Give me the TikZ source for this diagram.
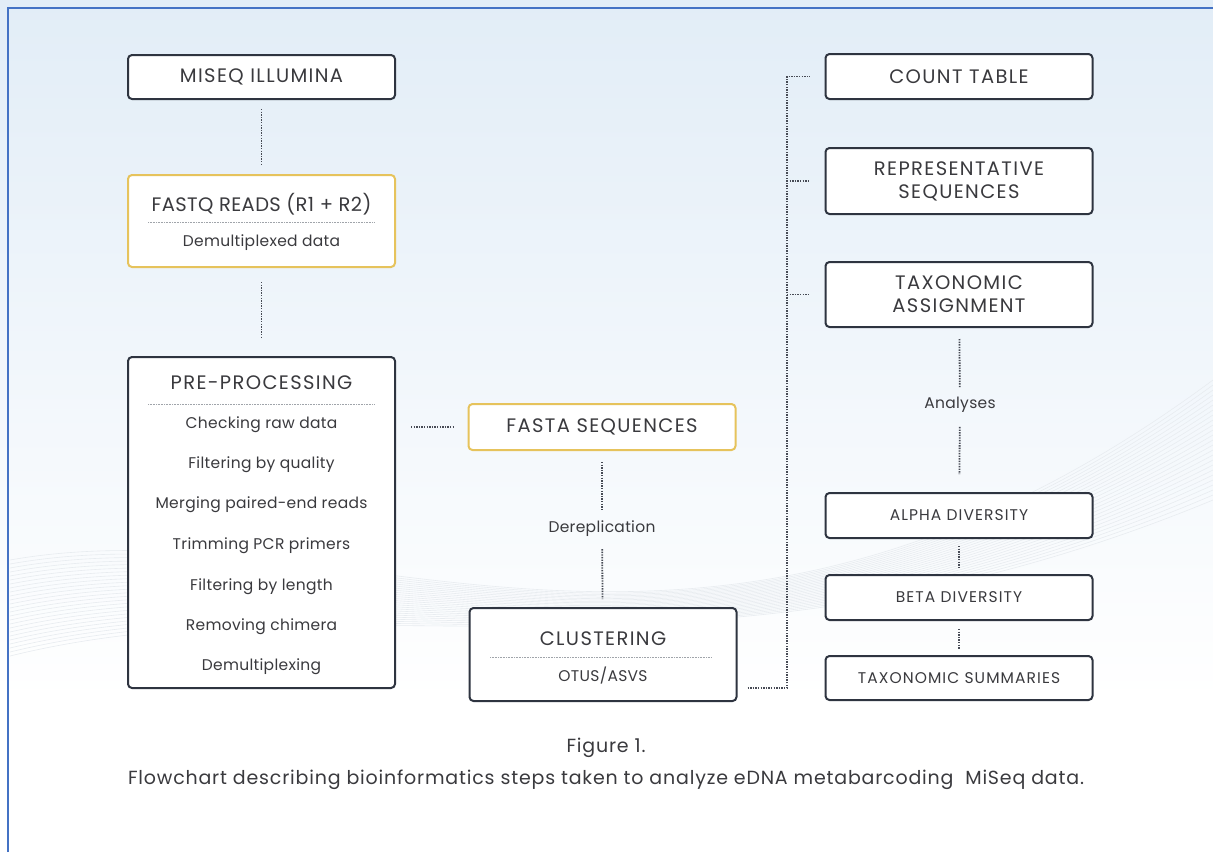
\documentclass[tikz,border=0pt]{standalone}
\usepackage{fontspec}
\setmainfont{Poppins}
\newfontfamily\pop{Poppins}
\newfontfamily\popT[LetterSpace=7]{Poppins}
\newfontfamily\popN[LetterSpace=2]{Poppins}
\newfontfamily\popS[LetterSpace=2]{Poppins}
\newfontfamily\popC[LetterSpace=4.3]{Poppins}
\usetikzlibrary{calc}
\definecolor{boxc}{HTML}{2E3440}
\definecolor{goldc}{HTML}{E6C35C}
\definecolor{txt}{HTML}{3A3A3E}
\definecolor{dotc}{HTML}{474B55}
\definecolor{sepc}{HTML}{A0A4AA}
\definecolor{bluec}{HTML}{4472C4}
\definecolor{bgtop}{HTML}{E2EDF7}
\definecolor{wavec}{HTML}{E8ECF0}
\newcommand{\boxfont}{\popT\fontsize{19.5}{23}\selectfont}
\newcommand{\narrowfont}{\popN\fontsize{19.5}{23}\selectfont}
\newcommand{\smallboxfont}{\popT\fontsize{15.5}{18}\selectfont}
\newcommand{\itemfont}{\popS\fontsize{15.5}{18}\selectfont}
\newcommand{\capfont}{\popC\fontsize{19}{22}\selectfont}
\begin{document}
\begin{tikzpicture}[x=1pt,y=-1pt,
  box/.style={draw=boxc, line width=2pt, rounded corners=4pt, fill=white, minimum width=267pt, inner sep=0pt, text=txt, font=\boxfont, align=center},
  gold/.style={box, draw=goldc},
  sbox/.style={box, font=\smallboxfont},
  conn/.style={draw=dotc, line width=1.8pt, dash pattern=on 1.4pt off 1.2pt},
  sepline/.style={draw=sepc, line width=0.8pt, dash pattern=on 0.8pt off 0.8pt},
  lbl/.style={text=txt, font=\itemfont, inner sep=2pt},
  ttl/.style={text=txt, font=\boxfont, inner sep=2pt}]
\useasboundingbox (0,0) rectangle (1213,852);
% background
\shade[top color=bgtop, bottom color=white] (0,0) rectangle (1213,700);
\fill[white] (0,700) rectangle (1213,852);
\foreach \k in {0,...,24} {
  \draw[wavec, line width=0.6pt] (10,{560+4*\k}) .. controls (350,{500+3*\k}) and (700,{760-2*\k}) .. (1213,{380+5*\k});
}
\draw[bluec, line width=2.5pt] (8,852) -- (8,8) -- (1213,8);
% left column
\node[box, minimum height=44pt] (miseq) at (261.5,77) {MISEQ ILLUMINA};
\node[gold, minimum height=92pt] (fastq) at (261.5,221) {};
\node[ttl, font=\narrowfont] (fastqT) at (261.5,204) {FASTQ READS (R1 + R2)};
\draw[sepline] (148,222) -- (375,222);
\node[lbl] (fastqS) at (261.5,243) {Demultiplexed data};
\node[box, minimum height=331pt] (pre) at (261.5,522.5) {};
\node[ttl] (preT) at (261.5,383) {PRE-PROCESSING};
\draw[sepline] (148,404) -- (375,404);
\node[lbl] (i1) at (261.5,425) {Checking raw data};
\node[lbl] (i2) at (261.5,465) {Filtering by quality};
\node[lbl] (i3) at (261.5,505) {Merging paired-end reads};
\node[lbl] (i4) at (261.5,546) {Trimming PCR primers};
\node[lbl] (i5) at (261.5,587) {Filtering by length};
\node[lbl] (i6) at (261.5,627) {Removing chimera};
\node[lbl] (i7) at (261.5,667) {Demultiplexing};
% middle column
\node[gold, minimum height=46pt] (fasta) at (602,427) {FASTA SEQUENCES};
\node[lbl] (derep) at (602,529) {Dereplication};
\node[box, minimum height=93pt] (clust) at (603,654.5) {};
\node[ttl] (clustT) at (603,639) {CLUSTERING};
\draw[sepline] (490,657) -- (712,657);
\node[lbl] (clustS) at (603,676) {OTUS/ASVS};
% right column
\node[box, minimum height=45pt] (count) at (959,76.5) {COUNT TABLE};
\node[box, minimum height=66pt] (rep) at (959,181) {REPRESENTATIVE\\SEQUENCES};
\node[box, minimum height=65pt] (tax) at (959,294.5) {TAXONOMIC\\ASSIGNMENT};
\node[lbl] (anal) at (960,405) {Analyses};
\node[sbox, minimum height=45pt] (alpha) at (959,515.5) {ALPHA DIVERSITY};
\node[sbox, minimum height=45pt] (beta) at (959,597.5) {BETA DIVERSITY};
\node[sbox, minimum height=44pt] (summ) at (959,678) {TAXONOMIC SUMMARIES};
% connectors
\draw[conn, shorten <=9pt, shorten >=10pt] (miseq) -- (fastq);
\draw[conn, shorten <=14pt, shorten >=17pt] (fastq) -- (pre);
\draw[conn, shorten <=15pt, shorten >=13pt] (pre.east |- fasta) -- (fasta.west);
\draw[conn, shorten <=11pt, shorten >=10pt] (fasta) -- (derep);
\draw[conn, shorten <=10pt, shorten >=8pt] (derep) -- (clust);
\coordinate (j) at (787,688);
\draw[conn] ([xshift=10pt]clust.east |- j) -- (j) |- ([xshift=-15pt]count.west);
\draw[conn] (j |- rep.west) -- ([xshift=-15pt]rep.west);
\draw[conn] (j |- tax.west) -- ([xshift=-15pt]tax.west);
\draw[conn, shorten <=11pt, shorten >=8pt] (tax) -- (anal);
\draw[conn, shorten <=12pt, shorten >=18pt] (anal) -- (alpha);
\draw[conn, shorten <=7pt, shorten >=7pt] (alpha) -- (beta);
\draw[conn, shorten <=8pt, shorten >=6pt] (beta) -- (summ);
% caption
\node[lbl, font=\capfont] (fig) at (606,748) {Figure 1.};
\node[lbl, font=\capfont] (cap) at (606,780) {Flowchart describing bioinformatics steps taken to analyze eDNA metabarcoding\ \ MiSeq data.};
\end{tikzpicture}
\end{document}
